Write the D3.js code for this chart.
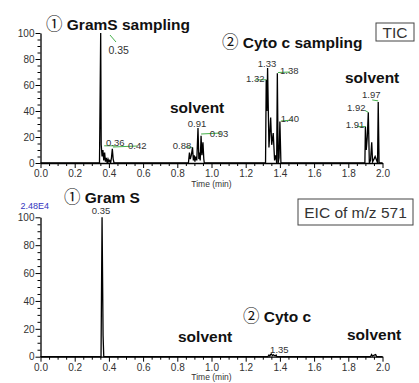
<!DOCTYPE html>
<html>
<head>
<meta charset="utf-8">
<script src="https://cdn.jsdelivr.net/npm/d3@7"></script>
<style>
  body { margin: 0; background: #fff; }
  svg { display: block; }
  .tick text { font-family: "Liberation Sans", Arial, sans-serif; font-size: 10px; fill: #333; }
  .plabel { font-family: "Liberation Sans", Arial, sans-serif; font-size: 9.5px; fill: #333; text-anchor: middle; }
  .big { font-family: "Liberation Sans", Arial, sans-serif; font-size: 15.5px; font-weight: bold; fill: #111; }
  .circ { font-family: "Noto Sans CJK JP", sans-serif; font-weight: normal; font-size: 16.5px; }
</style>
</head>
<body>
<div id="chart"></div>
<script>
// axis ticks
const timeTicks = [0, 0.2, 0.4, 0.6, 0.8, 1.0, 1.2, 1.4, 1.6, 1.8, 2.0];
const relTicks = [0, 20, 40, 60, 80, 100];

// TIC trace (time in min, relative abundance %)
const ticTime = [0, 0.345, 0.352, 0.355, 0.36, 0.365, 0.37, 0.375, 0.38, 0.385, 0.39, 0.395, 0.40, 0.405, 0.41, 0.415, 0.42, 0.425, 0.43,
  0.865, 0.871, 0.876, 0.882, 0.889, 0.894, 0.899, 0.903, 0.908, 0.914, 0.921, 0.926, 0.930, 0.934, 0.939, 0.944, 0.950, 0.955, 0.958,
  1.316, 1.320, 1.324, 1.328, 1.336, 1.346, 1.352, 1.361, 1.369, 1.377, 1.381, 1.385, 1.390, 1.395, 1.400, 1.406,
  1.897, 1.900, 1.905, 1.911, 1.917, 1.923, 1.930, 1.937, 1.942, 1.950, 1.957, 1.966, 1.971, 1.975, 1.980, 2.0];
const ticInt = [0, 0, 100, 14, 5, 10, 2, 8, 1, 4, 0, 3, 1, 2, 0, 4, 11, 3, 0,
  0, 8, 3, 6, 12, 2, 6, 1, 5, 2, 27, 3, 8, 2, 21, 6, 16, 3, 0,
  0, 64, 40, 73, 12, 35, 14, 23, 2, 6, 0, 69, 0, 4, 32, 0,
  0, 28, 10, 20, 39, 0, 2, 16, 1, 3, 5, 2, 0, 47, 0, 0];

// EIC of m/z 571
const eicTime = [0, 0.354, 0.360, 0.366, 0.370, 1.330, 1.336, 1.341, 1.346, 1.350, 1.356, 1.362, 1.372, 1.378, 1.382, 1.930, 1.936, 1.942, 1.952, 1.960, 1.966, 2.0];
const eicInt = [0, 0, 100, 15, 0, 0, 1.2, 0.4, 1.6, 2, 0.8, 1.4, 0.5, 1.2, 0, 0, 1.5, 0.4, 1.2, 1.5, 0, 0];

// peak labels
const ticPeakTime = [0.352, 0.355, 0.42, 0.889, 0.921, 0.939, 1.320, 1.328, 1.385, 1.400, 1.900, 1.917, 1.975];
const ticPeakInt = [100, 14, 11, 12, 27, 21, 64, 73, 69, 32, 28, 39, 47];
const ticPeakText = ["0.35", "0.36", "0.42", "0.88", "0.91", "0.93", "1.32", "1.33", "1.38", "1.40", "1.91", "1.92", "1.97"];
const eicPeakTime = [0.36, 1.35];
const eicPeakInt = [100, 2];
const eicPeakText = ["0.35", "1.35"];

const ticTitles = ["GramS sampling", "Cyto c sampling", "solvent", "solvent"];
const eicTitles = ["Gram S", "Cyto c", "solvent", "solvent"];
const baseIntensity = "2.48E4";

const width = 419, height = 383;
const svg = d3.select("#chart").append("svg").attr("width", width).attr("height", height);

const x = d3.scaleLinear().domain([0, 2]).range([40.5, 382.5]);
const yTop = d3.scaleLinear().domain([0, 100]).range([163, 33]);
const yBot = d3.scaleLinear().domain([0, 100]).range([356.7, 217.3]);

function drawAxes(y) {
  const y0 = y(0);
  const xMinor = d3.range(0, 2.0001, 0.05).filter(d => Math.abs(d * 5 - Math.round(d * 5)) > 1e-6);
  const yMinor = d3.range(0, 100.1, 5).filter(d => d % 20 !== 0);

  svg.append("g").attr("transform", "translate(0," + y0 + ")")
    .call(d3.axisBottom(x).tickValues(xMinor).tickSize(3).tickSizeOuter(0).tickFormat(""))
    .call(g => g.select(".domain").remove());
  svg.append("g").attr("transform", "translate(0," + y0 + ")")
    .call(d3.axisBottom(x).tickValues(timeTicks).tickSize(5).tickSizeOuter(0).tickPadding(2).tickFormat(d3.format(".1f")))
    .call(g => g.select(".domain").attr("stroke-width", 1.3));

  svg.append("g").attr("transform", "translate(" + x(0) + ",0)")
    .call(d3.axisLeft(y).tickValues(yMinor).tickSize(3).tickSizeOuter(0).tickFormat(""))
    .call(g => g.select(".domain").remove());
  svg.append("g").attr("transform", "translate(" + x(0) + ",0)")
    .call(d3.axisLeft(y).tickValues(relTicks).tickSize(5).tickSizeOuter(0).tickPadding(1))
    .call(g => g.select(".domain").attr("stroke-width", 1.3));

  svg.append("text").attr("x", (x(0) + x(2)) / 2).attr("y", y0 + 23.5)
    .attr("text-anchor", "middle")
    .style("font-family", "Liberation Sans, Arial, sans-serif").style("font-size", "8.5px").style("fill", "#333")
    .text("Time (min)");
}

function drawTrace(times, ints, y) {
  const line = d3.line().x((d, i) => x(times[i])).y(d => y(d));
  svg.append("path").datum(ints).attr("d", line)
    .attr("fill", "none").attr("stroke", "#000").attr("stroke-width", 1.3)
    .attr("stroke-linejoin", "miter");
}

function drawLabels(times, ints, texts, offs, leaders, y) {
  texts.forEach((t, i) => {
    const px = x(times[i]), py = y(ints[i]);
    const ld = leaders[i];
    if (ld) {
      svg.append("line")
        .attr("x1", px + ld[0]).attr("y1", py + ld[1])
        .attr("x2", px + ld[2]).attr("y2", py + ld[3])
        .attr("stroke", "#45b04a").attr("stroke-width", 1);
    }
    svg.append("text").attr("class", "plabel")
      .attr("x", px + offs[i][0]).attr("y", py + offs[i][1])
      .style("font-size", i === 0 && y === yTop ? "10.5px" : null)
      .text(t);
  });
}

function bigTitle(num, txt, px, py) {
  const t = svg.append("text").attr("class", "big").attr("x", px).attr("y", py);
  if (num) {
    t.append("tspan").attr("class", "circ").text(num);
    t.append("tspan").text(" " + txt);
  } else {
    t.text(txt);
  }
}

function boxLabel(txt, bx, by, bw, bh) {
  svg.append("rect").attr("x", bx).attr("y", by).attr("width", bw).attr("height", bh)
    .attr("fill", "#fff").attr("stroke", "#444").attr("stroke-width", 1);
  svg.append("text").attr("x", bx + bw / 2).attr("y", by + bh / 2 + 5.5)
    .attr("text-anchor", "middle")
    .style("font-family", "Liberation Sans, Arial, sans-serif").style("font-size", "15.5px").style("fill", "#333")
    .text(txt);
}

// ---- TIC panel
drawAxes(yTop);
drawTrace(ticTime, ticInt, yTop);
drawLabels(ticPeakTime, ticPeakInt, ticPeakText,
  [[18, 21], [14, 1], [25, 0.5], [-10.5, 1.6], [-1, -1], [18, 1], [-11, 1.7], [-0.6, -1.5], [12, 1], [10, 0.6], [-10.4, 1.4], [-12, -1.3], [-7, -4]],
  [[9.3, 2, 15.3, 9], [3, 1, 14, 1], [0.7, -1.7, 24.7, -2.7], [-6.5, -0.4, -0.5, 0], null, [0, -1.7, 20, -2.7], [-11, 0, 0, 0], null,
   [0.7, -0.8, 12.7, -1.3], [1, -0.4, 13, -1.4], [-8.4, 0, 0, 0], [-3.3, -1.8, 0, 0], [-6, -2, 0, -1]],
  yTop);

bigTitle("\u2460", ticTitles[0], 46, 30);
bigTitle("\u2461", ticTitles[1], 222, 48);
bigTitle(null, ticTitles[2], 170, 113);
bigTitle(null, ticTitles[3], 345, 83);
boxLabel("TIC", 376, 23, 38, 18);

// ---- EIC panel
drawAxes(yBot);
drawTrace(eicTime, eicInt, yBot);
drawLabels(eicPeakTime, eicPeakInt, eicPeakText, [[-1, -3], [8, -1.4]], [null, null], yBot);

svg.append("text").attr("x", 49).attr("y", 209).attr("text-anchor", "end")
  .style("font-family", "Liberation Sans, Arial, sans-serif").style("font-size", "9px").style("fill", "#3535c0")
  .text(baseIntensity);

bigTitle("\u2460", eicTitles[0], 64, 203);
bigTitle("\u2461", eicTitles[1], 243, 322);
bigTitle(null, eicTitles[2], 178, 342);
bigTitle(null, eicTitles[3], 347, 340);
boxLabel("EIC of m/z 571", 298, 199, 115, 26);
</script>
</body>
</html>
